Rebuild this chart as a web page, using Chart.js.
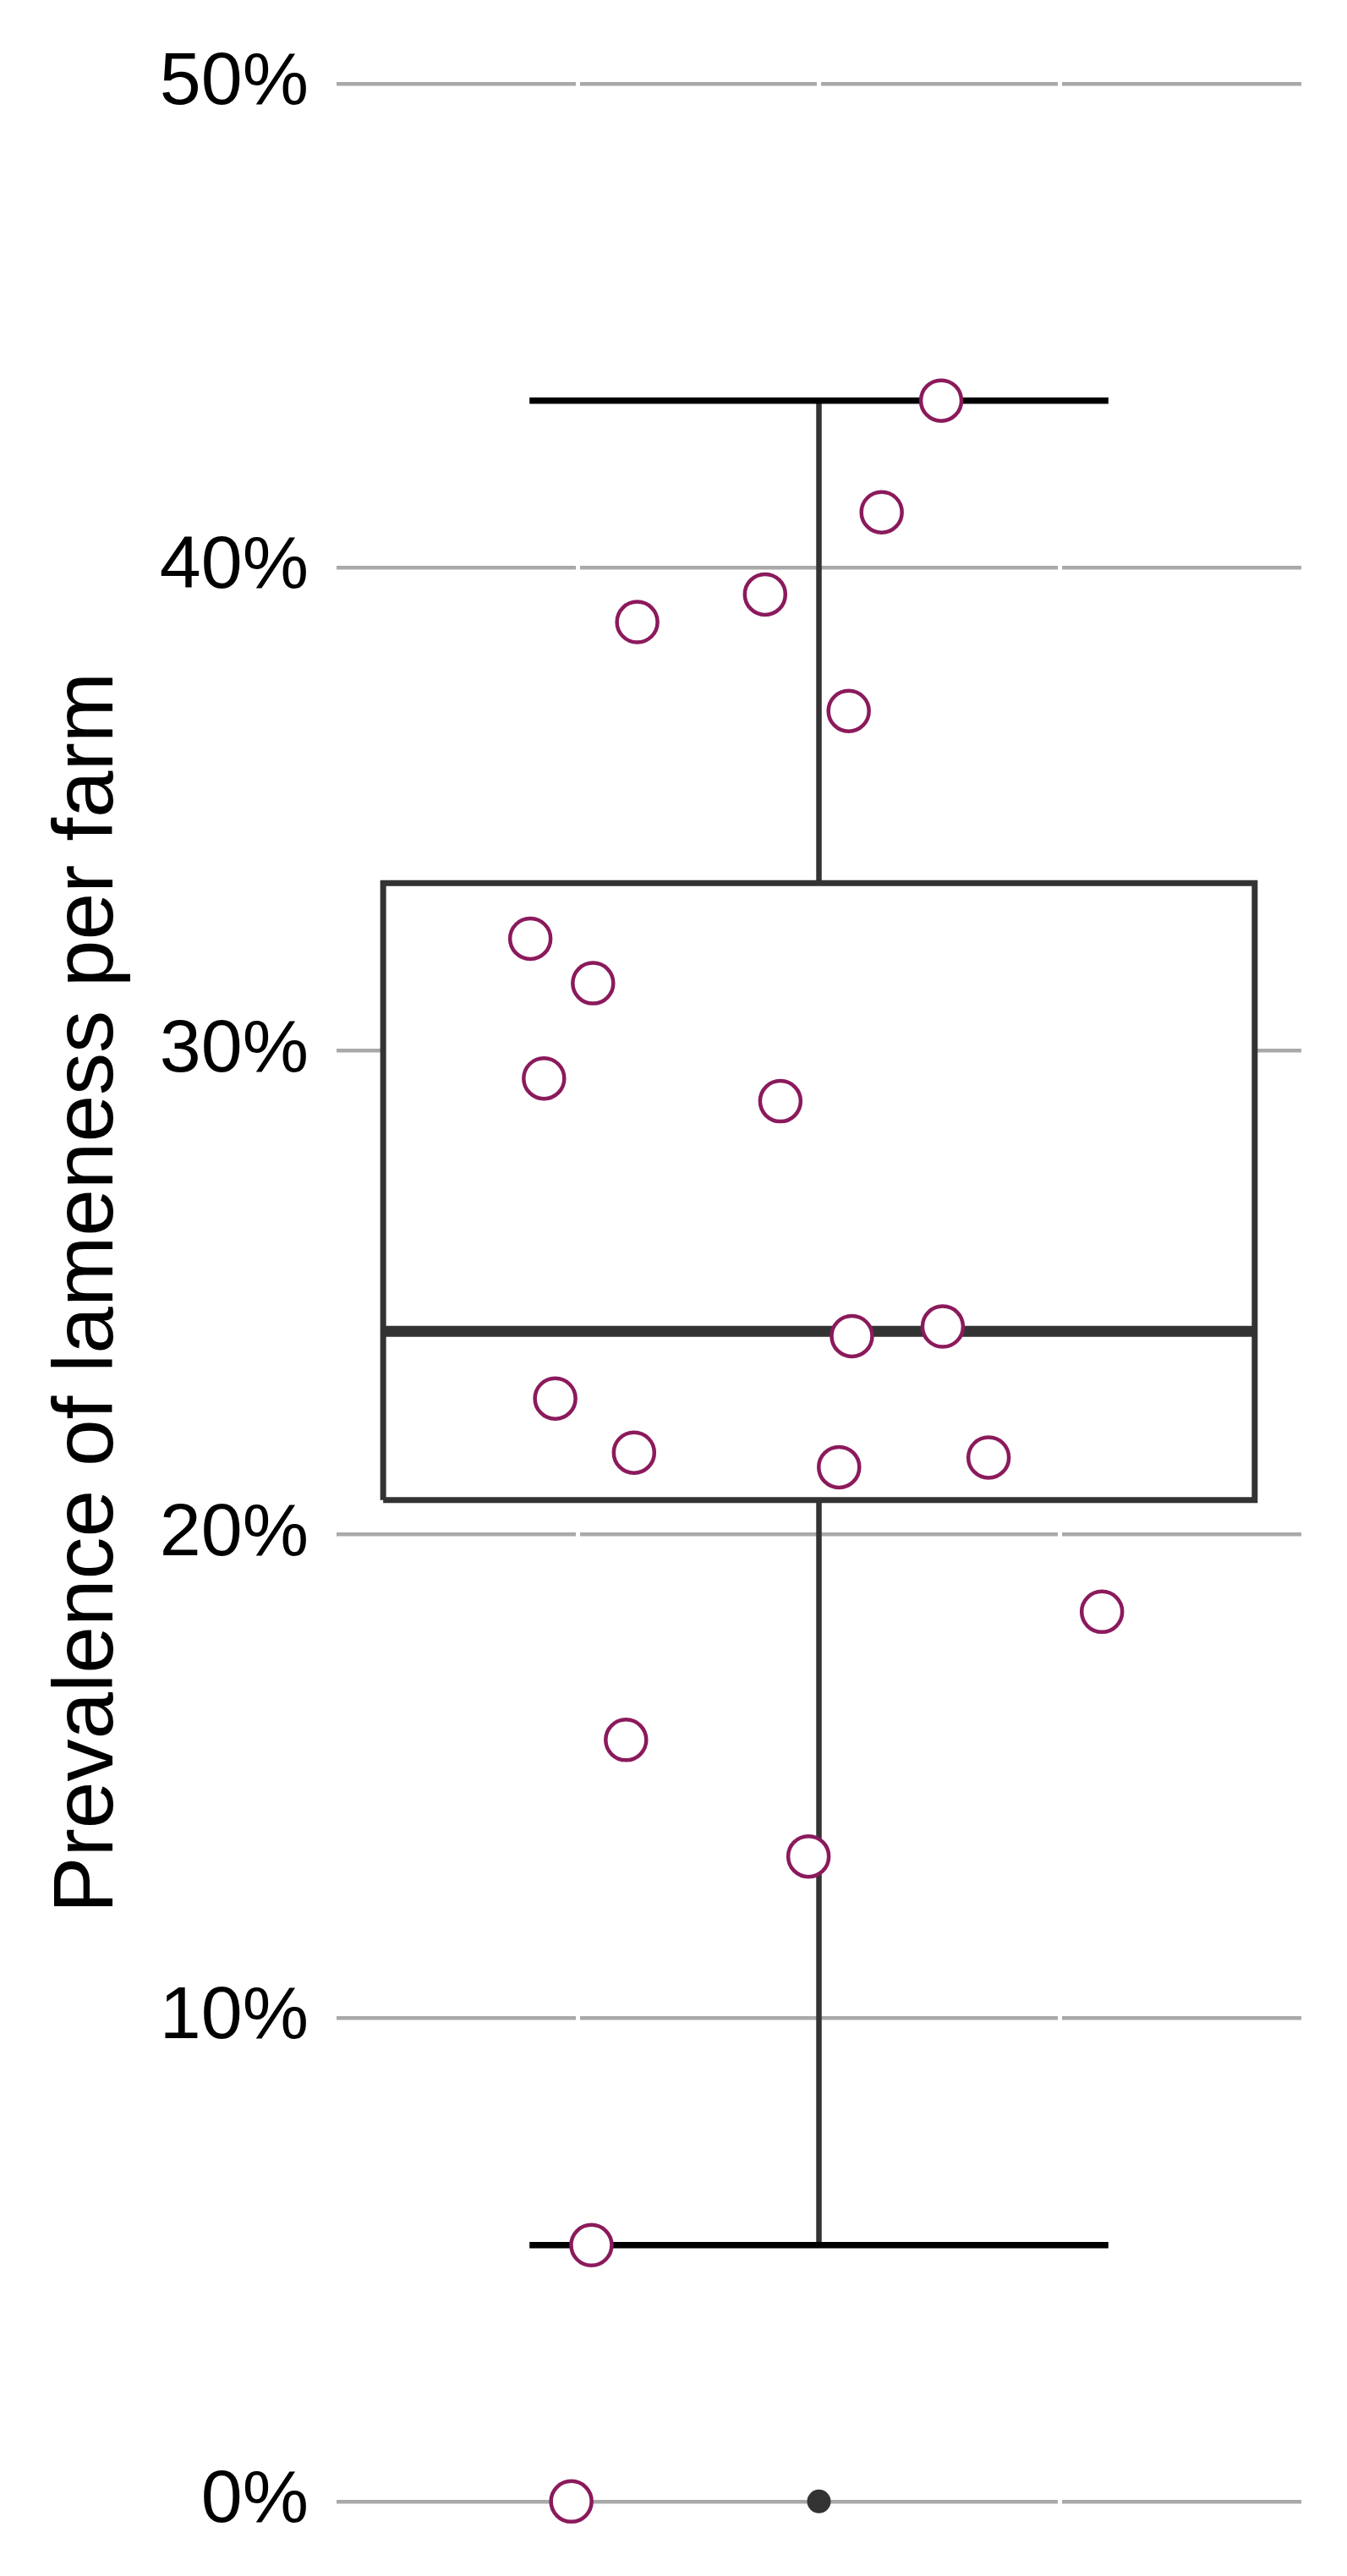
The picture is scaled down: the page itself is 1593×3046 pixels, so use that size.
<!DOCTYPE html>
<html>
<head>
<meta charset="utf-8">
<script src="https://cdn.jsdelivr.net/npm/chart.js@4.4.1/dist/chart.umd.min.js"></script>
<style>
  html, body { margin: 0; padding: 0; background: #fff; }
  #chart { display: block; width: 1593px; height: 3046px; }
</style>
</head>
<body>
<canvas id="chart" width="1593" height="3046"></canvas>
<script>
// values
const yTicks = [0, 0.1, 0.2, 0.3, 0.4, 0.5];
const farmJitter = [1.152, 1.078, 0.933, 0.774, 1.037, 0.641, 0.719, 0.658, 0.952, 1.154,
                    1.041, 0.672, 0.770, 1.025, 1.211, 1.352, 0.760, 0.987, 0.717, 0.692];
const farmPrevalence = [0.4345, 0.4114, 0.3944, 0.3887, 0.3703, 0.3232, 0.3140, 0.2943, 0.2896, 0.2430,
                        0.2410, 0.2281, 0.2169, 0.2139, 0.2159, 0.1840, 0.1575, 0.1334, 0.0530, 0.0];
const quartiles = [0.2071, 0.2420, 0.3347];   // q1, median, q3
const whiskerEnds = [0.0530, 0.4345];          // lower, upper
const outliers = [0];

// geometry of the box in x units
const groupX = 1;
const boxHalf = 0.542;
const capHalf = 0.36;
const gapLines = [0.7, 1.0, 1.3];

const FONT = "'Liberation Sans', Arial, Helvetica, sans-serif";
const DARK = '#333333';
const POINT_COLOR = '#8B1A5C';

const hline = (y, half) => [{ x: groupX - half, y }, { x: groupX + half, y }];
const [q1, med, q3] = quartiles;
const [lo, hi] = whiskerEnds;

const lineDefaults = { type: 'line', pointRadius: 0, fill: false, tension: 0, clip: false };

const datasets = [
  { ...lineDefaults, label: 'boxLow', data: hline(q1, boxHalf), borderWidth: 0, order: 9 },
  { ...lineDefaults, label: 'boxHigh', data: hline(q3, boxHalf), borderWidth: 0,
    fill: '-1', backgroundColor: '#ffffff', order: 8 },
  { ...lineDefaults, label: 'whiskerUp', data: [{ x: groupX, y: q3 }, { x: groupX, y: hi }],
    borderColor: DARK, borderWidth: 6.5, order: 7 },
  { ...lineDefaults, label: 'whiskerDown', data: [{ x: groupX, y: q1 }, { x: groupX, y: lo }],
    borderColor: DARK, borderWidth: 6.5, order: 7 },
  { ...lineDefaults, label: 'capTop', data: hline(hi, capHalf), borderColor: '#000', borderWidth: 7.5, order: 6 },
  { ...lineDefaults, label: 'capBottom', data: hline(lo, capHalf), borderColor: '#000', borderWidth: 7.5, order: 6 },
  { ...lineDefaults, label: 'box',
    data: [
      { x: groupX - boxHalf, y: q1 }, { x: groupX + boxHalf, y: q1 },
      { x: groupX + boxHalf, y: q3 }, { x: groupX - boxHalf, y: q3 },
      { x: groupX - boxHalf, y: q1 }
    ],
    borderColor: DARK, borderWidth: 7, borderJoinStyle: 'miter', order: 4 },
  { ...lineDefaults, label: 'median', data: hline(med, boxHalf), borderColor: DARK, borderWidth: 13, order: 3 },
  { type: 'scatter', label: 'outliers', data: outliers.map(v => ({ x: groupX, y: v })),
    pointRadius: 14, backgroundColor: DARK, borderWidth: 0, clip: false, order: 2 },
  { type: 'scatter', label: 'farms',
    data: farmPrevalence.map((v, i) => ({ x: farmJitter[i], y: v })),
    pointRadius: 24, borderWidth: 4.5, borderColor: POINT_COLOR, backgroundColor: '#ffffff',
    clip: false, order: 1 }
];

new Chart(document.getElementById('chart'), {
  type: 'scatter',
  data: { datasets },
  options: {
    responsive: false,
    devicePixelRatio: 1,
    animation: false,
    events: [],
    layout: { padding: { left: 0, right: 54, top: 42, bottom: 31 } },
    plugins: { legend: { display: false }, tooltip: { enabled: false } },
    scales: {
      x: {
        type: 'linear',
        min: 0.4,
        max: 1.6,
        ticks: { display: false },
        border: { display: false },
        grid: { color: '#ffffff', lineWidth: 5, drawTicks: false, z: -1 },
        afterBuildTicks: s => { s.ticks = gapLines.map(v => ({ value: v })); },
        afterFit: s => { s.height = 0; s.paddingLeft = 0; s.paddingRight = 0; }
      },
      y: {
        type: 'linear',
        min: -0.01,
        max: 0.51,
        afterBuildTicks: s => { s.ticks = yTicks.map(v => ({ value: v })); },
        afterFit: s => { s.width = 398; s.paddingTop = 0; s.paddingBottom = 0; },
        ticks: {
          callback: v => Math.round(v * 100) + '%',
          font: { family: FONT, size: 88 },
          color: '#000',
          padding: 33
        },
        grid: { color: '#a9a9a9', lineWidth: 4.5, drawTicks: false, z: -2 },
        border: { display: false },
        title: {
          display: true,
          text: 'Prevalence of lameness per farm',
          font: { family: FONT, size: 100 },
          color: '#000',
          padding: { top: 45, bottom: 0 }
        }
      }
    }
  }
});
</script>
</body>
</html>
